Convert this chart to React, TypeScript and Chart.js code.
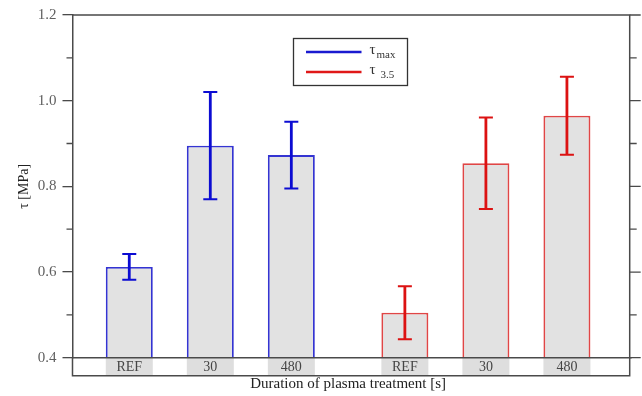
import React, { useEffect, useRef } from "react";
import { Chart, registerables } from "chart.js";

Chart.register(...registerables);

// ---- data ----
const groups = ["τmax", "τ3.5"];
const treatments = ["REF", "30", "480"];
const tauMax = [0.612, 0.895, 0.873];
const tauMaxErr = [0.03, 0.125, 0.078];
const tau35 = [0.505, 0.854, 0.965];
const tau35Err = [0.062, 0.107, 0.091];
const yMajorTicks = [0.4, 0.6, 0.8, 1.0, 1.2];
const yMinorTicks = [0.5, 0.7, 0.9, 1.1];
const xTitle = "Duration of plasma treatment [s]";
const yTitle = "τ [MPa]";

// ---- styles ----
const FONT = "'Liberation Serif', 'DejaVu Serif', serif";
const barBorder = ["#3434d2", "#e04646"];
const errColor = ["#0c0cd2", "#dc1212"];
const legendColor = ["#1a1ad0", "#e01818"];
const frameColor = "#4a4a4a";

const decorPlugin = {
  id: "decor",
  afterDatasetsDraw(chart: any) {
    const ctx = chart.ctx as CanvasRenderingContext2D;
    const { left, right, top, bottom } = chart.chartArea;
    const y = chart.scales.y;
    const frameRight = right + 6;
    const frameBottom = bottom + 18;
    ctx.save();

    // label boxes + error bars
    chart.data.datasets.forEach((ds: any, di: number) => {
      const meta = chart.getDatasetMeta(di);
      meta.data.forEach((bar: any, gi: number) => {
        const w = bar.width;
        ctx.fillStyle = "#dedede";
        ctx.fillRect(bar.x - w / 2, bottom, w, frameBottom - bottom);
        ctx.fillStyle = "#454545";
        ctx.font = `14px ${FONT}`;
        ctx.textAlign = "center";
        ctx.textBaseline = "middle";
        ctx.fillText(treatments[di], bar.x, (bottom + frameBottom) / 2 + 1);

        const v = ds.data[gi] as number;
        const e = ds.errors[gi] as number;
        const yt = y.getPixelForValue(v + e);
        const yb = y.getPixelForValue(v - e);
        ctx.strokeStyle = errColor[gi];
        ctx.lineWidth = 2.8;
        ctx.beginPath();
        ctx.moveTo(bar.x, yt);
        ctx.lineTo(bar.x, yb);
        ctx.stroke();
        ctx.lineWidth = 2;
        ctx.beginPath();
        ctx.moveTo(bar.x - 7, yt);
        ctx.lineTo(bar.x + 7, yt);
        ctx.moveTo(bar.x - 7, yb);
        ctx.lineTo(bar.x + 7, yb);
        ctx.stroke();
      });
    });

    // frame
    ctx.strokeStyle = frameColor;
    ctx.lineWidth = 1.5;
    ctx.beginPath();
    ctx.moveTo(left, top);
    ctx.lineTo(frameRight, top);
    ctx.lineTo(frameRight, frameBottom);
    ctx.lineTo(left, frameBottom);
    ctx.lineTo(left, bottom);
    ctx.moveTo(left, bottom);
    ctx.lineTo(frameRight + 2, bottom);
    ctx.stroke();

    // right ticks and left minor ticks
    ctx.lineWidth = 1.3;
    ctx.beginPath();
    yMajorTicks.forEach((t) => {
      const py = y.getPixelForValue(t);
      ctx.moveTo(frameRight, py);
      ctx.lineTo(frameRight + 11, py);
    });
    yMinorTicks.forEach((t) => {
      const py = y.getPixelForValue(t);
      ctx.moveTo(frameRight, py);
      ctx.lineTo(frameRight + 7, py);
      ctx.moveTo(left - 6, py);
      ctx.lineTo(left, py);
    });
    ctx.stroke();
    ctx.restore();
  },
  afterDraw(chart: any) {
    const ctx = chart.ctx as CanvasRenderingContext2D;
    const { left, top } = chart.chartArea;
    const bx = left + 221;
    const by = top + 23.5;
    const bw = 114;
    const bh = 47;
    ctx.save();
    ctx.fillStyle = "#ffffff";
    ctx.fillRect(bx, by, bw, bh);
    ctx.strokeStyle = "#333";
    ctx.lineWidth = 1.3;
    ctx.strokeRect(bx, by, bw, bh);
    const subs = ["max", "3.5"];
    const subGap = [1, 5];
    groups.forEach((g, i) => {
      const ly = by + 13.5 + i * 20;
      ctx.strokeStyle = legendColor[i];
      ctx.lineWidth = 2.6;
      ctx.beginPath();
      ctx.moveTo(bx + 12.5, ly);
      ctx.lineTo(bx + 68, ly);
      ctx.stroke();
      ctx.fillStyle = "#333";
      ctx.textAlign = "left";
      ctx.textBaseline = "alphabetic";
      ctx.font = `15px ${FONT}`;
      ctx.fillText("τ", bx + 76, ly + 2);
      const tw = ctx.measureText("τ").width;
      ctx.font = `11px ${FONT}`;
      ctx.fillText(subs[i], bx + 76 + tw + subGap[i], ly + 6);
    });
    ctx.restore();
  },
};

export default function App() {
  const canvasRef = useRef<HTMLCanvasElement | null>(null);

  useEffect(() => {
    document.body.style.margin = "0";
    const canvas = canvasRef.current;
    if (!canvas) return;

    const datasets = treatments.map((t, di) => ({
      label: t,
      data: [tauMax[di], tau35[di]],
      errors: [tauMaxErr[di], tau35Err[di]],
      backgroundColor: "#e2e2e2",
      borderColor: barBorder,
      borderWidth: 1.9,
      borderSkipped: "start",
      categoryPercentage: 0.882,
      barPercentage: 0.58,
    }));

    const chart = new Chart(canvas, {
      type: "bar",
      data: { labels: groups, datasets: datasets as any },
      options: {
        responsive: false,
        animation: false,
        layout: { padding: { top: 15, right: 18.3, bottom: 0, left: 0 } },
        plugins: {
          legend: { display: false },
          tooltip: { enabled: false },
        },
        scales: {
          x: {
            grid: { display: false },
            border: { display: false },
            ticks: { display: false },
            title: {
              display: true,
              text: xTitle,
              color: "#222",
              font: { family: FONT, size: 15 },
              padding: { top: 0, bottom: 3 },
            },
            afterFit(scale: any) {
              scale.height = 38.3;
            },
          },
          y: {
            min: 0.4,
            max: 1.2,
            afterBuildTicks(scale: any) {
              scale.ticks = yMajorTicks.map((v) => ({ value: v }));
            },
            ticks: {
              color: "#606060",
              font: { family: FONT, size: 15 },
              padding: 6,
              callback: (v: any) => Number(v).toFixed(1),
            },
            grid: {
              drawOnChartArea: false,
              drawTicks: true,
              tickLength: 10,
              tickColor: frameColor,
              lineWidth: 1.3,
            },
            border: { display: true, color: frameColor, width: 1.5 },
            title: {
              display: true,
              text: yTitle,
              color: "#222",
              font: { family: FONT, size: 14 },
              padding: { top: 16, bottom: 0 },
            },
            afterFit(scale: any) {
              scale.width = 72.5;
            },
          },
        },
      },
      plugins: [decorPlugin],
    });

    return () => chart.destroy();
  }, []);

  return <canvas ref={canvasRef} width={642} height={396} />;
}
